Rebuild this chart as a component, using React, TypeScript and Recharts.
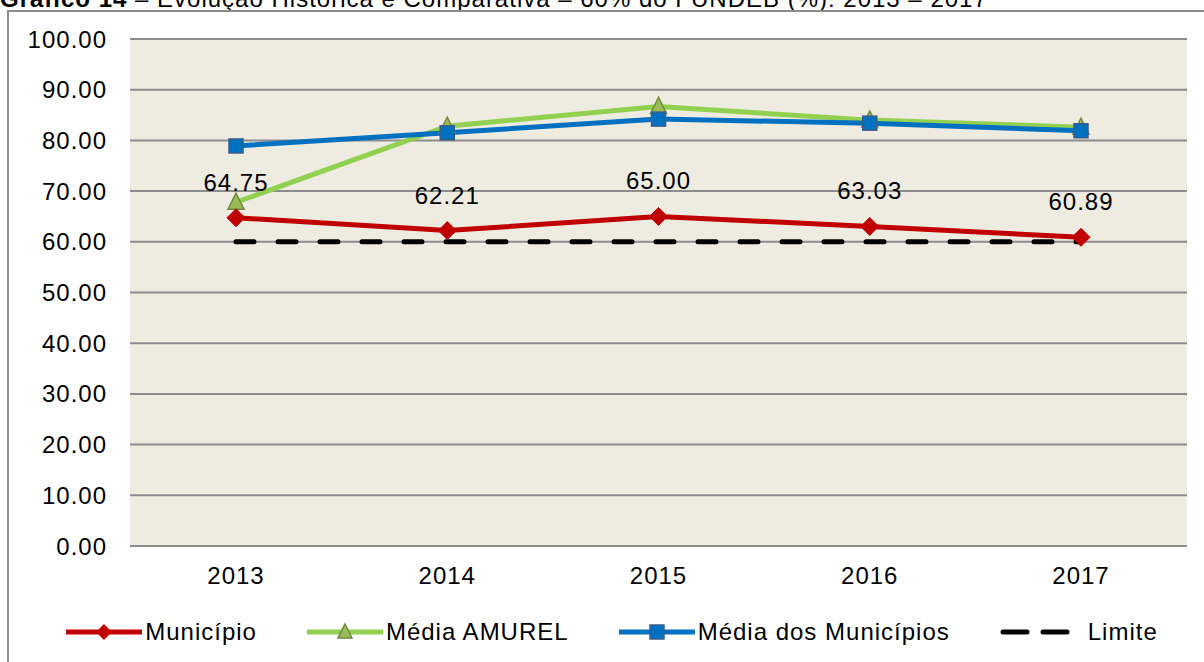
import { LineChart, Line, XAxis, YAxis, CartesianGrid, Legend, LabelList } from "recharts";

const years = ["2013", "2014", "2015", "2016", "2017"];
const municipio = [64.75, 62.21, 65.0, 63.03, 60.89];
const mediaAmurel = [67.8, 82.8, 86.7, 84.0, 82.6];
const mediaMunicipios = [78.9, 81.5, 84.2, 83.4, 81.9];
const limite = [60, 60, 60, 60, 60];
const yTicks = [0, 10, 20, 30, 40, 50, 60, 70, 80, 90, 100];

const FONT = "'Liberation Sans', Arial, sans-serif";
const RED = "#C00000";
const GREEN = "#92D050";
const BLUE = "#0070C0";

const data = years.map((year, i) => ({
  year,
  municipio: municipio[i],
  amurel: mediaAmurel[i],
  municipios: mediaMunicipios[i],
  limite: limite[i],
}));

const diamond = (cx: number, cy: number, r = 9) =>
  `M${cx},${cy - r} L${cx + r},${cy} L${cx},${cy + r} L${cx - r},${cy} Z`;
const triangle = (cx: number, cy: number, r = 8) =>
  `M${cx},${cy - r - 1} L${cx + r},${cy + r - 1} L${cx - r},${cy + r - 1} Z`;

const DiamondDot = (p: any) =>
  p.cx == null ? null : <path key={p.index} d={diamond(p.cx, p.cy)} fill={RED} stroke={RED} strokeWidth={1} />;
const TriangleDot = (p: any) =>
  p.cx == null ? null : <path key={p.index} d={triangle(p.cx, p.cy)} fill="#9BBB59" stroke="#71893F" strokeWidth={1.5} />;
const SquareDot = (p: any) =>
  p.cx == null ? null : (
    <rect key={p.index} x={p.cx - 7} y={p.cy - 7} width={14} height={14} fill={BLUE} stroke="#385D8A" strokeWidth={1.5} />
  );

const legendItems = [
  { name: "Município", color: RED, marker: "diamond" },
  { name: "Média AMUREL", color: GREEN, marker: "triangle" },
  { name: "Média dos Municípios", color: BLUE, marker: "square" },
  { name: "Limite", color: "#000", marker: "dash" },
];

function LegendContent() {
  return (
    <div style={{ display: "flex", alignItems: "center", height: 36, paddingLeft: 20, justifyContent: "center", gap: 50 }}>
      {legendItems.map((it) => (
        <div key={it.name} style={{ display: "flex", alignItems: "center" }}>
          <svg width={76} height={24} style={{ marginRight: it.marker === "dash" ? 12 : 3 }}>
            {it.marker === "dash" ? (
              <>
                <line x1={3} y1={12} x2={27} y2={12} stroke="#000" strokeWidth={5} strokeLinecap="round" />
                <line x1={43} y1={12} x2={67} y2={12} stroke="#000" strokeWidth={5} strokeLinecap="round" />
              </>
            ) : (
              <line x1={0} y1={12} x2={76} y2={12} stroke={it.color} strokeWidth={5} />
            )}
            {it.marker === "diamond" && <path d={diamond(38, 12, 8)} fill={RED} />}
            {it.marker === "triangle" && <path d={triangle(38, 12, 7)} fill="#9BBB59" stroke="#71893F" strokeWidth={1.5} />}
            {it.marker === "square" && <rect x={31} y={5} width={14} height={14} fill={BLUE} stroke="#385D8A" strokeWidth={1.5} />}
          </svg>
          <span style={{ fontFamily: FONT, fontSize: 24, letterSpacing: 1, color: "#000" }}>{it.name}</span>
        </div>
      ))}
    </div>
  );
}

const tickStyle = { fill: "#000", fontSize: 24, fontFamily: FONT, letterSpacing: 1 };

export default function App() {
  return (
    <div style={{ position: "fixed", left: 0, top: 0, width: 1204, height: 662, overflow: "hidden", background: "#fff" }}>
      <div
        style={{
          position: "absolute",
          left: 0,
          top: -13,
          whiteSpace: "nowrap",
          fontFamily: FONT,
          fontSize: 24,
          letterSpacing: 1,
          lineHeight: "24px",
          color: "#000",
        }}
      >
        <b>Gráfico 14</b> – Evolução Histórica e Comparativa – 60% do FUNDEB (%): 2013 – 2017
      </div>
      <div
        style={{
          position: "absolute",
          left: 7,
          top: 10,
          width: 1300,
          height: 800,
          border: "2px solid #8C8C8C",
        }}
      />
      <div style={{ position: "absolute", left: 0, top: 0 }}>
        <LineChart width={1204} height={662} data={data} margin={{ top: 39, right: 17, bottom: 0, left: 0 }}>
          <CartesianGrid vertical={false} fill="#EEEBE0" stroke="#8C8C8C" strokeWidth={2} />
          <XAxis
            dataKey="year"
            tick={tickStyle}
            tickLine={false}
            tickSize={0}
            tickMargin={21}
            axisLine={{ stroke: "#8C8C8C", strokeWidth: 2 }}
            height={116}
            padding={{ left: 106, right: 106 }}
          />
          <YAxis
            domain={[0, 100]}
            ticks={yTicks}
            tickFormatter={(v: number) => v.toFixed(2)}
            tick={tickStyle}
            tickLine={false}
            tickSize={0}
            tickMargin={23}
            axisLine={false}
            width={130}
            interval={0}
          />
          <Legend
            layout="horizontal"
            verticalAlign="middle"
            align="center"
            content={() => <LegendContent />}
            wrapperStyle={{ top: 614, left: 0, width: 1204, height: 36 }}
          />
          <Line
            dataKey="limite"
            name="Limite"
            stroke="#000"
            strokeWidth={5}
            strokeDasharray="18 24"
            strokeLinecap="round"
            dot={false}
            activeDot={false}
            isAnimationActive={false}
          />
          <Line
            dataKey="amurel"
            name="Média AMUREL"
            stroke={GREEN}
            strokeWidth={5}
            dot={TriangleDot}
            activeDot={false}
            isAnimationActive={false}
          />
          <Line
            dataKey="municipios"
            name="Média dos Municípios"
            stroke={BLUE}
            strokeWidth={5}
            dot={SquareDot}
            activeDot={false}
            isAnimationActive={false}
          />
          <Line
            dataKey="municipio"
            name="Município"
            stroke={RED}
            strokeWidth={5}
            dot={DiamondDot}
            activeDot={false}
            isAnimationActive={false}
          >
            <LabelList
              dataKey="municipio"
              position="top"
              offset={27}
              formatter={(v: any) => Number(v).toFixed(2)}
              style={{ fill: "#000", fontSize: 24, fontFamily: FONT, letterSpacing: 1 }}
            />
          </Line>
        </LineChart>
      </div>
    </div>
  );
}
